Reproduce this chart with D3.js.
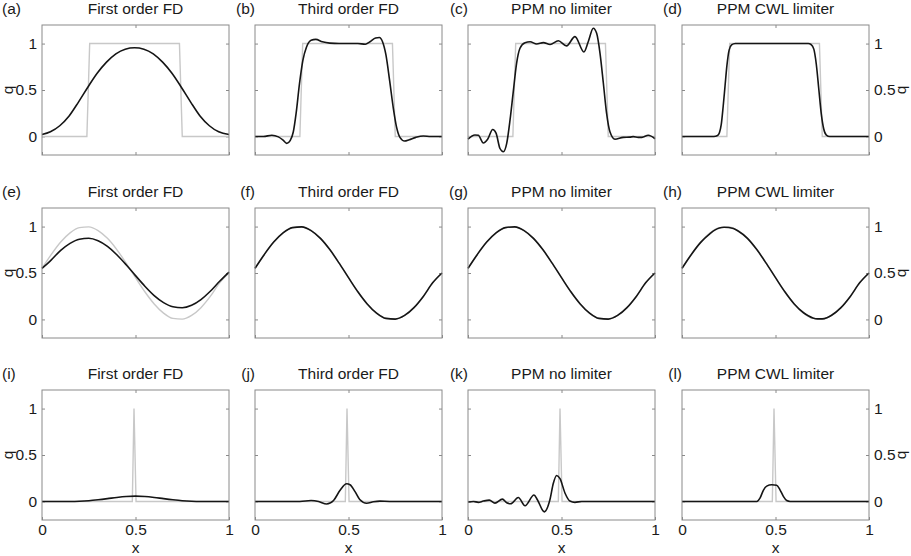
<!DOCTYPE html>
<html>
<head>
<meta charset="utf-8">
<script src="https://cdn.jsdelivr.net/npm/d3@7"></script>
<style>
  body { margin: 0; background: #fff; }
  text { font-family: "Liberation Sans", Arial, Helvetica, sans-serif; fill: #1a1a1a; }
</style>
</head>
<body>
<svg id="chart"></svg>
<script>
// panel titles and letters
const schemes = ["First order FD", "Third order FD", "PPM no limiter", "PPM CWL limiter"]
const letters = ["a", "b", "c", "d", "e", "f", "g", "h", "i", "j", "k", "l"]
const yTicks = [0, 0.5, 1]
const xTicks = [0, 0.5, 1]

// exact solutions (grey)
const squareX = [0, 0.24, 0.255, 0.735, 0.75, 1]
const squareExact = [0, 0, 1, 1, 0, 0]
const sineX = [0, 0.05, 0.1, 0.15, 0.2, 0.25, 0.3, 0.35, 0.4, 0.45, 0.5, 0.55, 0.6, 0.65, 0.7, 0.75, 0.8, 0.85, 0.9, 0.95, 1]
const sineExact = [0.55, 0.70, 0.833, 0.932, 0.989, 0.997, 0.957, 0.873, 0.752, 0.606, 0.45, 0.298, 0.167, 0.068, 0.011, 0.003, 0.043, 0.127, 0.248, 0.394, 0.5]
const spikeX = [0, 0.483, 0.492, 0.503, 1]
const spikeExact = [0, 0, 1, 0, 0]

// row 1: square wave
const aX = [0, 0.045, 0.095, 0.145, 0.195, 0.245, 0.295, 0.345, 0.395, 0.445, 0.495, 0.545, 0.595, 0.645, 0.695, 0.745, 0.795, 0.845, 0.895, 0.945, 1]
const aQ = [0.02, 0.05, 0.115, 0.22, 0.37, 0.53, 0.68, 0.8, 0.89, 0.94, 0.955, 0.94, 0.89, 0.8, 0.68, 0.53, 0.37, 0.22, 0.115, 0.05, 0.02]
const bX = [0, 0.045, 0.09, 0.125, 0.15, 0.17, 0.188, 0.205, 0.22, 0.238, 0.256, 0.275, 0.3, 0.325, 0.36, 0.4, 0.45, 0.5, 0.55, 0.59, 0.615, 0.645, 0.665, 0.682, 0.7, 0.72, 0.74, 0.757, 0.775, 0.8, 0.825, 0.86, 0.9, 0.94, 1]
const bQ = [0, 0, 0.012, -0.005, -0.04, -0.075, -0.045, 0.05, 0.25, 0.57, 0.82, 0.96, 1.035, 1.045, 1.02, 1.005, 1.0, 1.0, 1.0, 0.993, 1.02, 1.06, 1.065, 1.02, 0.88, 0.6, 0.3, 0.1, -0.01, -0.05, -0.035, -0.01, 0.005, 0, 0]
const cX = [0, 0.037, 0.055, 0.082, 0.105, 0.132, 0.15, 0.171, 0.189, 0.207, 0.225, 0.242, 0.26, 0.278, 0.305, 0.332, 0.367, 0.403, 0.439, 0.483, 0.527, 0.572, 0.62, 0.643, 0.67, 0.688, 0.706, 0.724, 0.741, 0.759, 0.786, 0.83, 0.865, 0.884, 0.91, 0.93, 0.964, 1]
const cQ = [-0.03, 0.015, 0.012, -0.07, -0.03, 0.075, 0.035, -0.13, -0.165, -0.075, 0.18, 0.48, 0.79, 0.95, 1.01, 1.02, 0.995, 1.01, 0.99, 1.03, 0.975, 1.075, 0.91, 1.02, 1.165, 1.11, 0.895, 0.57, 0.25, 0.05, -0.03, -0.01, -0.008, -0.002, -0.01, -0.01, 0.012, -0.025]
const dX = [0, 0.17, 0.19, 0.2, 0.21, 0.22, 0.23, 0.24, 0.252, 0.265, 0.285, 0.675, 0.69, 0.705, 0.718, 0.732, 0.745, 0.758, 0.772, 0.79, 1]
const dQ = [0, 0, 0.01, 0.04, 0.13, 0.32, 0.54, 0.76, 0.93, 0.985, 1.0, 1.0, 0.99, 0.94, 0.78, 0.5, 0.24, 0.08, 0.015, 0, 0]

// row 2: sine wave
const eX = [0, 0.05, 0.1, 0.15, 0.2, 0.25, 0.3, 0.35, 0.4, 0.45, 0.5, 0.55, 0.6, 0.65, 0.7, 0.75, 0.8, 0.85, 0.9, 0.95, 1]
const eQ = [0.55, 0.642, 0.743, 0.819, 0.864, 0.874, 0.847, 0.786, 0.697, 0.589, 0.472, 0.358, 0.257, 0.181, 0.136, 0.126, 0.153, 0.214, 0.303, 0.411, 0.51]
const fX = [0, 0.05, 0.1, 0.15, 0.2, 0.25, 0.3, 0.35, 0.4, 0.45, 0.5, 0.55, 0.6, 0.65, 0.7, 0.75, 0.8, 0.85, 0.9, 0.95, 1]
const fQ = [0.55, 0.70, 0.833, 0.932, 0.989, 0.997, 0.957, 0.873, 0.752, 0.606, 0.45, 0.298, 0.167, 0.068, 0.011, 0.003, 0.043, 0.127, 0.248, 0.394, 0.5]
const gX = [0, 0.05, 0.1, 0.15, 0.2, 0.25, 0.3, 0.35, 0.4, 0.45, 0.5, 0.55, 0.6, 0.65, 0.7, 0.75, 0.8, 0.85, 0.9, 0.95, 1]
const gQ = [0.55, 0.70, 0.833, 0.932, 0.989, 0.997, 0.957, 0.873, 0.752, 0.606, 0.45, 0.298, 0.167, 0.068, 0.011, 0.003, 0.043, 0.127, 0.248, 0.394, 0.5]
const hX = [0, 0.05, 0.1, 0.15, 0.175, 0.2, 0.225, 0.25, 0.275, 0.3, 0.35, 0.4, 0.45, 0.5, 0.55, 0.6, 0.65, 0.675, 0.7, 0.725, 0.75, 0.775, 0.8, 0.85, 0.9, 0.95, 1]
const hQ = [0.55, 0.70, 0.83, 0.925, 0.962, 0.985, 0.993, 0.99, 0.978, 0.952, 0.873, 0.752, 0.606, 0.45, 0.298, 0.167, 0.072, 0.04, 0.016, 0.006, 0.006, 0.018, 0.045, 0.127, 0.248, 0.394, 0.5]

// row 3: spike
const iX = [0, 0.15, 0.2, 0.25, 0.3, 0.35, 0.4, 0.45, 0.5, 0.55, 0.6, 0.65, 0.7, 0.75, 0.8, 0.85, 1]
const iQ = [0, 0, 0.002, 0.008, 0.018, 0.03, 0.043, 0.053, 0.057, 0.053, 0.043, 0.03, 0.018, 0.008, 0.002, 0, 0]
const jX = [0, 0.24, 0.3, 0.34, 0.383, 0.42, 0.455, 0.49, 0.508, 0.535, 0.56, 0.597, 0.633, 0.668, 0.72, 1]
const jQ = [0, 0, 0.01, 0, -0.028, 0.01, 0.12, 0.19, 0.18, 0.105, 0.02, -0.02, -0.004, 0.003, 0, 0]
const kX = [0, 0.029, 0.055, 0.082, 0.114, 0.144, 0.184, 0.207, 0.228, 0.269, 0.305, 0.353, 0.371, 0.408, 0.438, 0.456, 0.474, 0.492, 0.519, 0.545, 0.572, 0.608, 1]
const kQ = [-0.007, 0, -0.01, 0.004, 0.014, -0.018, 0.025, -0.014, -0.025, 0.042, -0.046, 0.07, 0.018, -0.112, 0.018, 0.193, 0.28, 0.246, 0.088, 0.004, -0.01, 0, 0]
const lX = [0, 0.4, 0.417, 0.435, 0.453, 0.48, 0.506, 0.524, 0.542, 0.56, 0.578, 1]
const lQ = [0, 0, 0.035, 0.12, 0.165, 0.18, 0.175, 0.125, 0.055, 0.01, 0, 0]

const rows = [
  { exactX: squareX, exact: squareExact, smooth: false, curves: [[aX, aQ], [bX, bQ], [cX, cQ], [dX, dQ]] },
  { exactX: sineX, exact: sineExact, smooth: true, curves: [[eX, eQ], [fX, fQ], [gX, gQ], [hX, hQ]] },
  { exactX: spikeX, exact: spikeExact, smooth: false, curves: [[iX, iQ], [jX, jQ], [kX, kQ], [lX, lQ]] }
]

const width = 911
const height = 556
const colLeft = [42, 255, 468, 682]
const rowTop = [25, 208, 390]
const pw = 187
const ph = 130
const fontSize = "15.5px"
const frameColor = "#8a8a8a"
const fmt = d3.format("")

const svg = d3.select("#chart")
  .attr("width", width)
  .attr("height", height)

function styleAxis(sel) {
  sel.select(".domain").remove()
  sel.selectAll(".tick line").attr("stroke", frameColor)
  sel.selectAll(".tick text").style("font-size", fontSize).attr("fill", "#1a1a1a")
}

rows.forEach((row, r) => {
  row.curves.forEach((curve, c) => {
    const x = d3.scaleLinear().domain([0, 1]).range([colLeft[c], colLeft[c] + pw])
    const y = d3.scaleLinear().domain([-0.2, 1.2]).range([rowTop[r] + ph, rowTop[r]])
    const g = svg.append("g")

    // inward ticks on all four sides
    g.append("g")
      .attr("transform", `translate(${x(0)},0)`)
      .call(d3.axisLeft(y).tickValues(yTicks).tickSizeInner(-3).tickSizeOuter(0).tickPadding(5)
        .tickFormat(c === 0 ? fmt : () => ""))
      .call(styleAxis)
    g.append("g")
      .attr("transform", `translate(${x(1)},0)`)
      .call(d3.axisRight(y).tickValues(yTicks).tickSizeInner(-3).tickSizeOuter(0).tickPadding(5)
        .tickFormat(c === 3 ? fmt : () => ""))
      .call(styleAxis)
    g.append("g")
      .attr("transform", `translate(0,${y(1.2)})`)
      .call(d3.axisTop(x).tickValues([0.5]).tickSizeInner(-3).tickSizeOuter(0).tickFormat(() => ""))
      .call(styleAxis)
    g.append("g")
      .attr("transform", `translate(0,${y(-0.2)})`)
      .call(d3.axisBottom(x).tickValues(xTicks).tickSizeInner(-3).tickSizeOuter(0).tickPadding(4)
        .tickFormat(r === 2 ? fmt : () => ""))
      .call(styleAxis)

    // exact solution
    const exactLine = d3.line()
      .x(d => x(d[0]))
      .y(d => y(d[1]))
      .curve(row.smooth ? d3.curveMonotoneX : d3.curveLinear)
    g.append("path")
      .attr("d", exactLine(d3.zip(row.exactX, row.exact)))
      .attr("fill", "none")
      .attr("stroke", "#c8c8c8")
      .attr("stroke-width", 1.4)

    // numerical solution
    const numLine = d3.line()
      .x(d => x(d[0]))
      .y(d => y(d[1]))
      .curve(d3.curveMonotoneX)
    g.append("path")
      .attr("d", numLine(d3.zip(curve[0], curve[1])))
      .attr("fill", "none")
      .attr("stroke", "#151515")
      .attr("stroke-width", 1.6)
      .attr("stroke-linejoin", "round")

    // frame
    g.append("rect")
      .attr("x", x(0)).attr("y", y(1.2))
      .attr("width", pw).attr("height", ph)
      .attr("fill", "none")
      .attr("stroke", frameColor)
      .attr("stroke-width", 1)

    // titles
    g.append("text")
      .attr("x", x(0.5)).attr("y", rowTop[r] - 11)
      .attr("text-anchor", "middle")
      .style("font-size", fontSize)
      .text(schemes[c])
    g.append("text")
      .attr("x", c === 0 ? 2 : x(0))
      .attr("y", rowTop[r] - 11)
      .attr("text-anchor", c === 0 ? "start" : "end")
      .style("font-size", fontSize)
      .text("(" + letters[r * 4 + c] + ")")

    if (c === 0 || c === 3) {
      const qx = c === 0 ? 13 : 906
      g.append("text")
        .attr("transform", `translate(${qx},${y(0.5)}) rotate(-90)`)
        .attr("text-anchor", "middle")
        .style("font-size", fontSize)
        .text("q")
    }
    if (r === 2) {
      g.append("text")
        .attr("x", x(0.5)).attr("y", 552.5)
        .attr("text-anchor", "middle")
        .style("font-size", fontSize)
        .text("x")
    }
  })
})
</script>
</body>
</html>
